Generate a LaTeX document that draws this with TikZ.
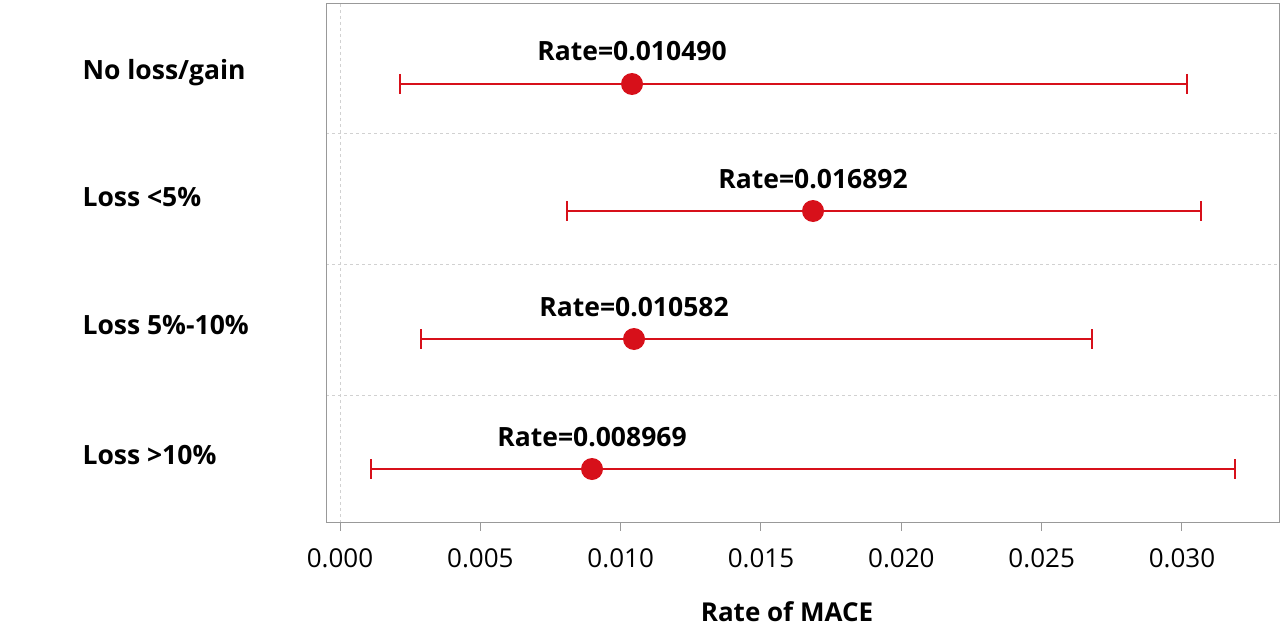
\documentclass[tikz,border=0pt]{standalone}
\usepackage{fontspec}
\setmainfont{Open Sans}
\begin{document}
\begin{tikzpicture}[x=1pt,y=-1pt,
  bar/.style={draw=myred,line width=2pt},
  dot/.style={circle,fill=myred,minimum size=22pt,inner sep=0pt},
  rlab/.style={font=\fontsize{26.5}{30}\selectfont\bfseries,anchor=base},
  ylab/.style={font=\fontsize{26.5}{30}\selectfont\bfseries,anchor=base west},
  tlab/.style={font=\fontsize{26}{30}\selectfont,anchor=base},
  grid/.style={draw=black!18,dashed,line width=0.8pt}]
\definecolor{myred}{HTML}{D7101A}
\useasboundingbox (0,0) rectangle (1280,626);
\draw[grid] (326,133) -- (1279,133) (326,264) -- (1279,264) (326,395) -- (1279,395);
\draw[grid] (340,4) -- (340,522);
\draw[draw=black!40,line width=1pt] (326,4) rectangle (1279,522);
\foreach \i/\v in {0/0.000,1/0.005,2/0.010,3/0.015,4/0.020,5/0.025,6/0.030}{
  \draw[black!40,line width=1pt] (340+140.33*\i,522) -- (340+140.33*\i,531);
  \node[tlab] (t\i) at (340+140.33*\i,567) {\v};
}
\node[font=\fontsize{26}{30}\selectfont\bfseries,anchor=base] (xl) at (787,621) {Rate of MACE};
\foreach \n/\y/\lo/\hi/\p/\lab/\r in {a/84/400/1187/632/No loss\slash gain/0.010490,
  b/211/567/1201/813/Loss <5\%/0.016892,
  c/339/421/1092/634/Loss 5\%-10\%/0.010582,
  d/469/371/1235/592/Loss >10\%/0.008969}{
  \coordinate (\n lo) at (\lo,\y);
  \coordinate (\n hi) at (\hi,\y);
  \draw[bar] (\n lo) -- (\n hi);
  \draw[bar] (\lo,\y-10) -- (\lo,\y+10) (\hi,\y-10) -- (\hi,\y+10);
  \node[dot] (\n p) at (\p,\y) {};
  \node[rlab] (\n r) at (\p,\y-23) {Rate=\r};
  \node[ylab] (\n y) at (79,\y-5) {\lab};
}
\end{tikzpicture}
\end{document}
